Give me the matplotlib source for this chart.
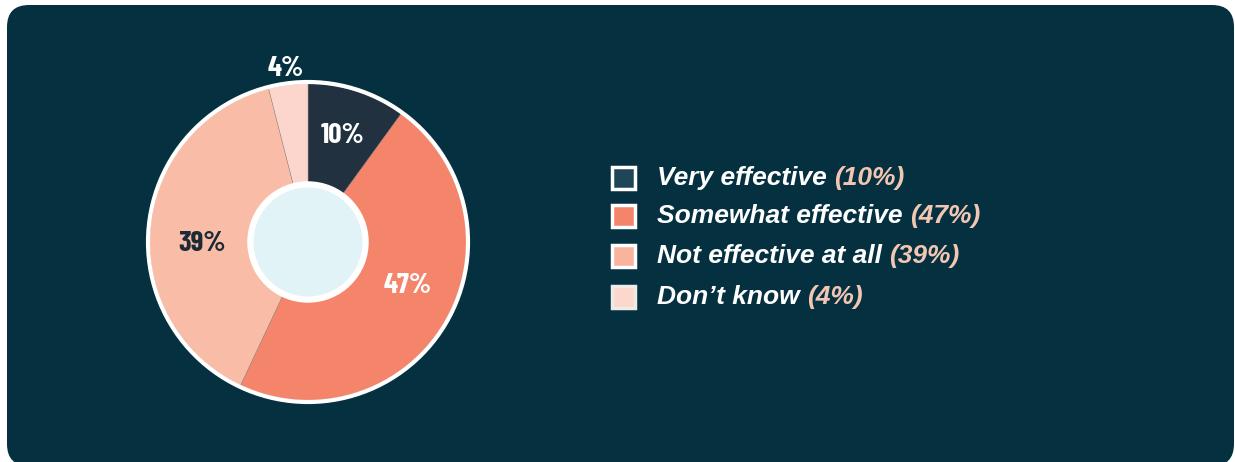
import numpy as np
import matplotlib.pyplot as plt
from matplotlib.patches import FancyBboxPatch, Circle, Rectangle

# Data
categories = ['Very effective', 'Somewhat effective', 'Not effective at all', "Don\u2019t know"]
values = [10, 47, 39, 4]
colors = ['#22313F', '#F4846A', '#F9BCA6', '#FCD6CC']
legend_colors = ['#1F4658', '#F4846A', '#F9B49E', '#FCD8CC']
label_colors = ['white', 'white', '#1B2A36', 'white']

W, H = 1235, 462
fig = plt.figure(figsize=(W / 100, H / 100), dpi=100, facecolor='white')

# Background panel (pixel coordinates)
bg = fig.add_axes([0, 0, 1, 1])
bg.set_xlim(0, W)
bg.set_ylim(0, H)
bg.axis('off')
bg.add_patch(FancyBboxPatch((7, -4), W - 8, H - 1, boxstyle='round,pad=0,rounding_size=22',
                            facecolor='#04303F', edgecolor='none'))

# Donut
cx, cy, R = 308, 462 - 242, 160
half = 172
ax = fig.add_axes([(cx - half) / W, (cy - half) / H, 2 * half / W, 2 * half / H])

wedges, _ = ax.pie(values, colors=colors, startangle=90, counterclock=False, radius=0.99,
                   wedgeprops=dict(edgecolor='#9a8a85', linewidth=0.3))
ax.add_patch(Circle((0, 0), 1.0, facecolor='none', edgecolor='white', linewidth=3, zorder=3))
ax.add_patch(Circle((0, 0), 0.36, facecolor='#E1F3F7', edgecolor='white', linewidth=4.5, zorder=3))
ax.set_xlim(-half / R, half / R)
ax.set_ylim(-half / R, half / R)
ax.set_aspect('equal')
ax.axis('off')

label_r = [0.70, 0.68, 0.66, 1.09]
angle_shift = [0, 7, 6, 0]
for w, v, r, s, c in zip(wedges, values, label_r, angle_shift, label_colors):
    mid = np.deg2rad((w.theta1 + w.theta2) / 2 + s)
    ax.text(r * np.cos(mid), r * np.sin(mid), f'{v}%', ha='center', va='center',
            color=c, fontsize=21, fontweight='bold', zorder=4,
            family=['Barlow Condensed', 'DejaVu Sans'])

# Legend
fig.canvas.draw()
renderer = fig.canvas.get_renderer()
row_y = [178, 216, 256, 297]
for cat, v, col, y in zip(categories, values, legend_colors, row_y):
    yy = H - y
    bg.add_patch(Rectangle((612, yy - 11), 23, 22, facecolor=col,
                           edgecolor='white' if col != '#FCD8CC' else '#EDEBE8', linewidth=2.5))
    t = bg.text(657, yy, cat + ' ', ha='left', va='center', color='white', fontsize=19,
                fontweight='bold', style='italic', family=['Liberation Sans', 'DejaVu Sans'])
    ext = t.get_window_extent(renderer)
    bg.text(ext.x1, yy, f'({v}%)', ha='left', va='center', color='#F3C6B4', fontsize=19,
            fontweight='bold', style='italic', family=['Liberation Sans', 'DejaVu Sans'])

fig.savefig('out.png', dpi=100, facecolor='white')
